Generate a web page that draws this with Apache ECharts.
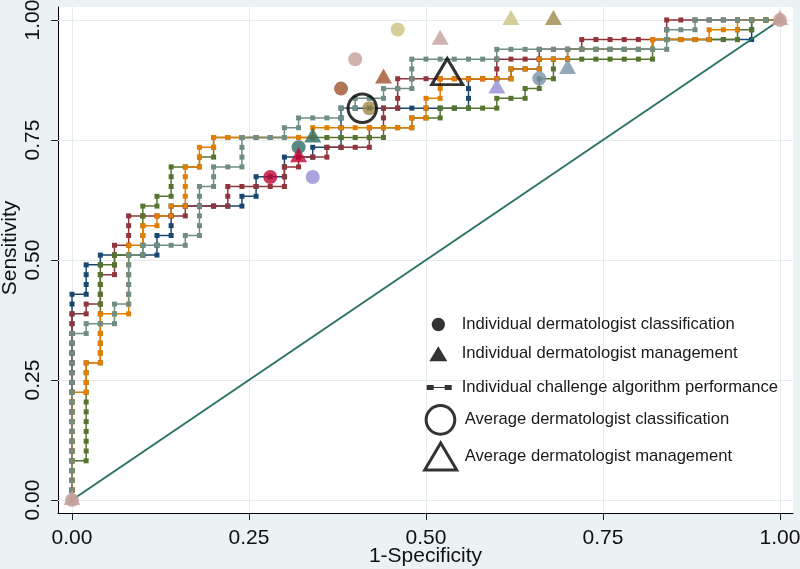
<!DOCTYPE html>
<html>
<head>
<meta charset="utf-8">
<script src="https://cdn.jsdelivr.net/npm/echarts@6/dist/echarts.min.js"></script>
<style>
html,body{margin:0;padding:0;background:#eaf2f3;}
#chart{width:800px;height:569px;}
</style>
</head>
<body>
<div id="chart"></div>
<script>
// ---- data ----
const N_NEG = 50;   // negatives (x step = 1/50)
const N_POS = 49;   // positives (y step = 1/49)

// ROC curves: corner points as [false-positive count, true-positive count]
const navyCorners = [[0,0],[0,21],[1,21],[1,24],[2,24],[2,25],[6,25],[6,27],[7,27],[7,30],[12,30],[12,31],[13,31],[13,33],[15,33],[15,35],[17,35],[17,36],[19,36],[19,40],[28,40],[28,43],[31,43],[31,44],[33,44],[33,45],[35,45],[35,46],[41,46],[41,47],[48,47],[48,49],[50,49]];
const maroonCorners = [[0,0],[0,19],[1,19],[1,20],[2,20],[2,23],[3,23],[3,26],[4,26],[4,29],[8,29],[8,30],[11,30],[11,32],[15,32],[15,34],[16,34],[16,35],[18,35],[18,36],[21,36],[21,38],[22,38],[22,40],[23,40],[23,43],[30,43],[30,45],[33,45],[33,46],[36,46],[36,47],[42,47],[42,49],[50,49]];
const greenCorners = [[0,0],[0,4],[1,4],[1,14],[2,14],[2,24],[3,24],[3,25],[5,25],[5,30],[6,30],[6,31],[7,31],[7,34],[9,34],[9,35],[10,35],[10,37],[22,37],[22,38],[24,38],[24,39],[26,39],[26,40],[30,40],[30,41],[32,41],[32,42],[33,42],[33,43],[34,43],[34,45],[41,45],[41,47],[47,47],[47,48],[48,48],[48,49],[50,49]];
const orangeCorners = [[0,0],[0,11],[1,11],[1,14],[2,14],[2,19],[4,19],[4,26],[5,26],[5,28],[6,28],[6,29],[7,29],[7,30],[8,30],[8,34],[9,34],[9,36],[10,36],[10,37],[17,37],[17,38],[24,38],[24,39],[25,39],[25,41],[26,41],[26,43],[31,43],[31,44],[33,44],[33,45],[35,45],[35,46],[41,46],[41,47],[45,47],[45,48],[47,48],[47,49],[50,49]];
const tealCorners = [[0,0],[0,17],[1,17],[1,18],[3,18],[3,20],[4,20],[4,25],[5,25],[5,26],[8,26],[8,27],[9,27],[9,32],[10,32],[10,34],[12,34],[12,37],[15,37],[15,38],[16,38],[16,39],[19,39],[19,40],[20,40],[20,41],[22,41],[22,42],[24,42],[24,45],[30,45],[30,46],[42,46],[42,48],[44,48],[44,49],[50,49]];
const curveColors = ['#1a476f','#90353b','#55752f','#e37e00','#6e8e84'];

// individual dermatologists (same order in every array)
const dermColors   = ['#c10534','#2d6d66','#938dd2','#a0522d','#c4a09b','#cac27e','#9c8847','#7b92a8'];
const dermClassFPR = [0.28, 0.32, 0.34, 0.38, 0.40, 0.46, 0.42, 0.66];
const dermClassTPR = [0.673,0.735,0.673,0.857,0.918,0.980,0.816,0.878];
const dermMgmtFPR  = [0.32, 0.34, 0.60, 0.44, 0.52, 0.62, 0.68, 0.70];
const dermMgmtTPR  = [0.714,0.755,0.857,0.878,0.959,1.000,1.000,0.898];
const avgClass = [0.41, 0.816];
const avgMgmt  = [0.53, 0.883];
const cornerMarksX = [0, 1];
const cornerMarksY = [0, 1];
const chanceLineX = [0, 1];
const chanceLineY = [0, 1];

const tickValues = [0, 0.25, 0.5, 0.75, 1];
const X_MIN = -0.0198, X_MAX = 1.0184;
const Y_MIN = -0.0271, Y_MAX = 1.027;

const legendNames = ['Individual dermatologist classification','Individual dermatologist management','Individual challenge algorithm performance','Average dermatologist classification','Average dermatologist management'];

// ---- build ----
function rocPoints(corners){
  const pts = [[corners[0][0]/N_NEG, corners[0][1]/N_POS]];
  for (let k = 1; k < corners.length; k++){
    let [a,b] = corners[k-1];
    const [ta,tb] = corners[k];
    while (a !== ta || b !== tb){
      if (a !== ta) a += Math.sign(ta-a); else b += Math.sign(tb-b);
      pts.push([a/N_NEG, b/N_POS]);
    }
  }
  return pts;
}
const FONT = 'Liberation Sans, Arial, sans-serif';
const allCorners = [navyCorners, maroonCorners, greenCorners, orangeCorners, tealCorners];

const gridLines = [];
tickValues.forEach(v => {
  gridLines.push({coords: [[v, Y_MIN], [v, Y_MAX]]});
  gridLines.push({coords: [[X_MIN, v], [X_MAX, v]]});
});

const series = [];
series.push({type:'lines', coordinateSystem:'cartesian2d', silent:true, z:1,
  lineStyle:{color:'#e4ecef', width:1, opacity:1}, data: gridLines});
allCorners.forEach((c, i) => {
  series.push({type:'line', name:'algorithm ' + (i+1), data: rocPoints(c), z:3,
    symbol:'rect', symbolSize:5, showAllSymbol:true, animation:false,
    itemStyle:{color: curveColors[i]}, lineStyle:{color: curveColors[i], width:1.5}});
});
series.push({type:'line', name:'chance', data: chanceLineX.map((x,i)=>[x, chanceLineY[i]]), z:4,
  showSymbol:false, lineStyle:{color:'#2b7366', width:2}});
series.push({type:'scatter', name:'corners', z:5, symbol:'circle', symbolSize:14,
  itemStyle:{color:'#c4a09b'}, data: cornerMarksX.map((x,i)=>[x, cornerMarksY[i]])});
series.push({type:'scatter', name:'corners', z:5, symbol:'triangle', symbolSize:[17,15], symbolOffset:[0,-2.5],
  itemStyle:{color:'#c4a09b'}, data: cornerMarksX.map((x,i)=>[x, cornerMarksY[i]])});
series.push({type:'scatter', name:legendNames[0], z:6, symbol:'circle', symbolSize:14,
  data: dermClassFPR.map((x,i)=>({value:[x, dermClassTPR[i]], itemStyle:{color: dermColors[i]}}))});
series.push({type:'scatter', name:legendNames[1], z:6, symbol:'triangle', symbolSize:[17,15], symbolOffset:[0,-2.5],
  data: dermMgmtFPR.map((x,i)=>({value:[x, dermMgmtTPR[i]], itemStyle:{color: dermColors[i]}}))});
series.push({type:'scatter', name:legendNames[2], z:6, data: []});
series.push({type:'scatter', name:legendNames[3], z:7, symbol:'circle', symbolSize:28.5,
  itemStyle:{color:'rgba(0,0,0,0)', borderColor:'#000', borderWidth:3}, data:[avgClass]});
series.push({type:'scatter', name:legendNames[4], z:7, symbol:'triangle', symbolSize:[31,26], symbolOffset:[0,-4.5],
  itemStyle:{color:'rgba(0,0,0,0)', borderColor:'#000', borderWidth:3}, data:[avgMgmt]});

function legTxt(padLeft){
  return {fontSize:16.6, color:'#1a1a1a', fontFamily:FONT, padding:[0,0,0,padLeft]};
}
const legends = [
  {data:[{name:legendNames[0], icon:'circle', itemStyle:{color:'#000'}}], left:431.7, top:316, itemWidth:13.3, itemHeight:13.3, textStyle:legTxt(11.7)},
  {data:[{name:legendNames[1], icon:'triangle', itemStyle:{color:'#000'}}], left:429.3, top:345.3, itemWidth:18, itemHeight:15, textStyle:legTxt(9.4)},
  {data:[{name:legendNames[2], icon:'path://M0,0h7v5h-7zM7,2h11v1h-11zM18,0h7v5h-7z', itemStyle:{color:'#000'}}], left:426.7, top:379, itemWidth:25, itemHeight:5, textStyle:legTxt(5)},
  {data:[{name:legendNames[3], icon:'circle', itemStyle:{color:'rgba(0,0,0,0)', borderColor:'#000', borderWidth:3}}], left:424.6, top:404, itemWidth:28.7, itemHeight:28.7, textStyle:legTxt(5)},
  {data:[{name:legendNames[4], icon:'triangle', itemStyle:{color:'rgba(0,0,0,0)', borderColor:'#000', borderWidth:3}}], left:423.2, top:441.5, itemWidth:32, itemHeight:27, textStyle:legTxt(3.1)}
].map(l => Object.assign({padding:0, selectedMode:false, orient:'vertical', symbolKeepAspect:false}, l));

const axisCommon = {
  type:'value', splitLine:{show:false},
  axisLine:{show:true, onZero:false, lineStyle:{color:'#000', width:1}},
  axisTick:{show:true, length:7, customValues:tickValues, lineStyle:{color:'#222'}},
  nameLocation:'middle', nameMoveOverlap:false
};
const option = {
  backgroundColor:'#eaf2f3',
  animation:false,
  grid:{left:58, top:7, right:7, bottom:56, show:true, backgroundColor:'#fff', borderWidth:0,
        containLabel:false, outerBoundsMode:'none'},
  legend: legends,
  xAxis: Object.assign({}, axisCommon, {min:X_MIN, max:X_MAX, name:'1-Specificity', nameGap:33,
    nameTextStyle:{fontSize:21, color:'#111', fontFamily:FONT},
    axisLabel:{customValues:tickValues, formatter:v=>v.toFixed(2), fontSize:21, color:'#111', fontFamily:FONT, margin:15}}),
  yAxis: Object.assign({}, axisCommon, {min:Y_MIN, max:Y_MAX, name:'Sensitivity', nameGap:37, nameRotate:90,
    nameTextStyle:{fontSize:21, color:'#111', fontFamily:FONT, padding:[0,0,0,24]},
    axisLabel:{customValues:tickValues, formatter:v=>v.toFixed(2), fontSize:21, color:'#111', fontFamily:FONT, margin:14, rotate:90}}),
  series: series
};
const chart = echarts.init(document.getElementById('chart'), null, {renderer:'canvas'});
chart.setOption(option);
</script>
</body>
</html>
